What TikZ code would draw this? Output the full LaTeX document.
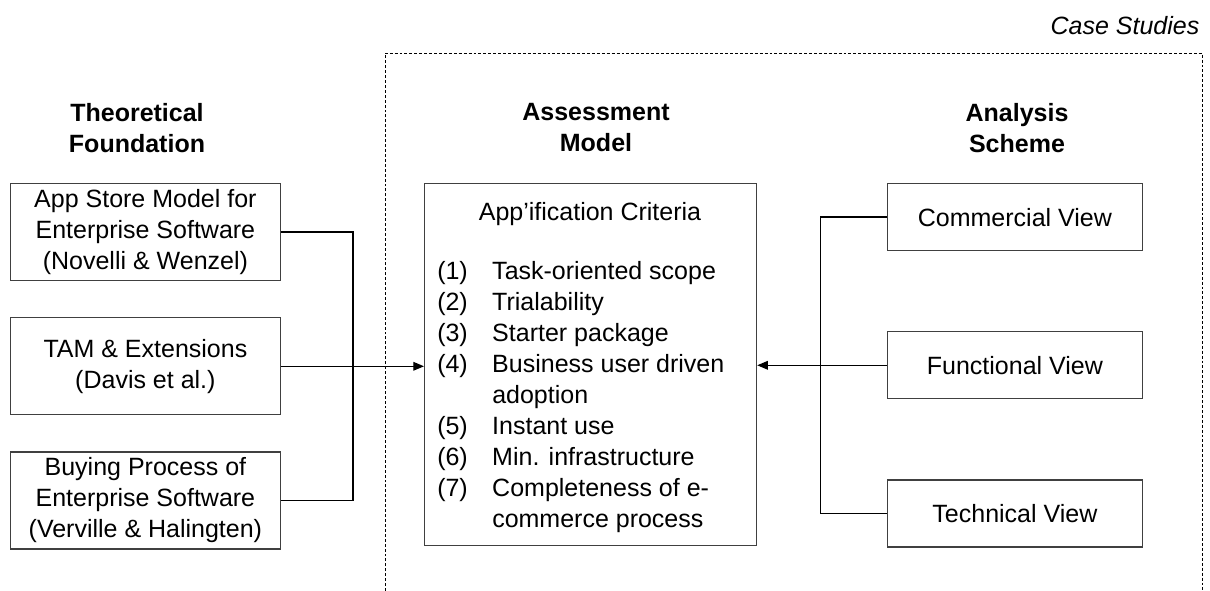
\documentclass[tikz,border=0pt]{standalone}
\usepackage{fontspec}
\setmainfont{Liberation Sans}
\usepackage{tikz}
\usetikzlibrary{arrows.meta, positioning}
\newcommand{\boxfont}{\fontsize{18.75}{23.25}\selectfont}
\newcommand{\num}[1]{\makebox[41.25pt][l]{#1}}
\tikzstyle{block} = [rectangle, draw=black!75, line width=0.9pt, align=center, inner sep=0pt, font=\boxfont]
\tikzstyle{head} = [align=center, font=\bfseries\boxfont]
\tikzstyle{line} = [line width=0.9pt]
\tikzstyle{arrow} = [line width=0.9pt, -{Triangle[length=8pt, width=6.5pt]}]

\begin{document}
\begin{tikzpicture}[x=0.75pt, y=-0.75pt, node distance=27pt]
  \useasboundingbox (0,0) rectangle (1210,591);

  % case study frame
  \draw[line width=0.6pt, dash pattern=on 2.2pt off 1.5pt] (385,591) |- (1202,53) -- (1202,591);
  \node[anchor=base east, font=\itshape\boxfont] (case) at (1204,35) {Case Studies};

  % column heads
  \node[head] (theo) at (137,128) {Theoretical\\Foundation};
  \node[head] (assess) at (596,128) {Assessment\\Model};
  \node[head] (scheme) at (1017,128) {Analysis\\Scheme};

  % assessment model
  \node[block, minimum width=249pt, minimum height=271.5pt, anchor=north west] (crit) at (424,183) {};
  \node[anchor=base, font=\boxfont] (crittitle) at (590,221) {App’ification Criteria};
  \node[anchor=north west, align=left, inner sep=0pt, font=\boxfont] (critlist) at (437,261)
    {\num{(1)}Task-oriented scope\\
     \num{(2)}Trialability\\
     \num{(3)}Starter package\\
     \num{(4)}Business user driven\\
     \num{}adoption\\
     \num{(5)}Instant use\\
     \num{(6)}Min. infrastructure\\
     \num{(7)}Completeness of e-\\
     \num{}commerce process};

  % theoretical foundation
  \node[block, minimum width=202.5pt, minimum height=72.75pt, anchor=north east] (found1) at (281,183)
    {App Store Model for\\Enterprise Software\\(Novelli \& Wenzel)};
  \node[block, minimum width=202.5pt, minimum height=72.75pt, below=of found1] (found2)
    {TAM \& Extensions\\(Davis et al.)};
  \node[block, minimum width=202.5pt, minimum height=72.75pt, below=of found2] (found3)
    {Buying Process of\\Enterprise Software\\(Verville \& Halingten)};

  % analysis scheme
  \node[block, minimum width=191.25pt, minimum height=50.25pt, anchor=north east] (com) at (1143,183) {Commercial View};
  \node[block, minimum width=191.25pt, minimum height=50.25pt, below=60pt of com] (func) {Functional View};
  \node[block, minimum width=191.25pt, minimum height=50.25pt, below=60pt of func] (tech) {Technical View};

  % connectors
  \path (found2.east) ++(72,0) coordinate (lbus);
  \draw[line] (found1.east) -| (lbus) |- (found3.east);
  \draw[line] (found2.east) -- (lbus);
  \draw[arrow] (lbus) -- (crit.west |- lbus);

  \path (func.west) ++(-66,0) coordinate (rbus);
  \draw[line] (com.west) -| (rbus) |- (tech.west);
  \draw[line] (func.west) -- (rbus);
  \draw[arrow] (rbus) -- (crit.east |- rbus);
\end{tikzpicture}
\end{document}
